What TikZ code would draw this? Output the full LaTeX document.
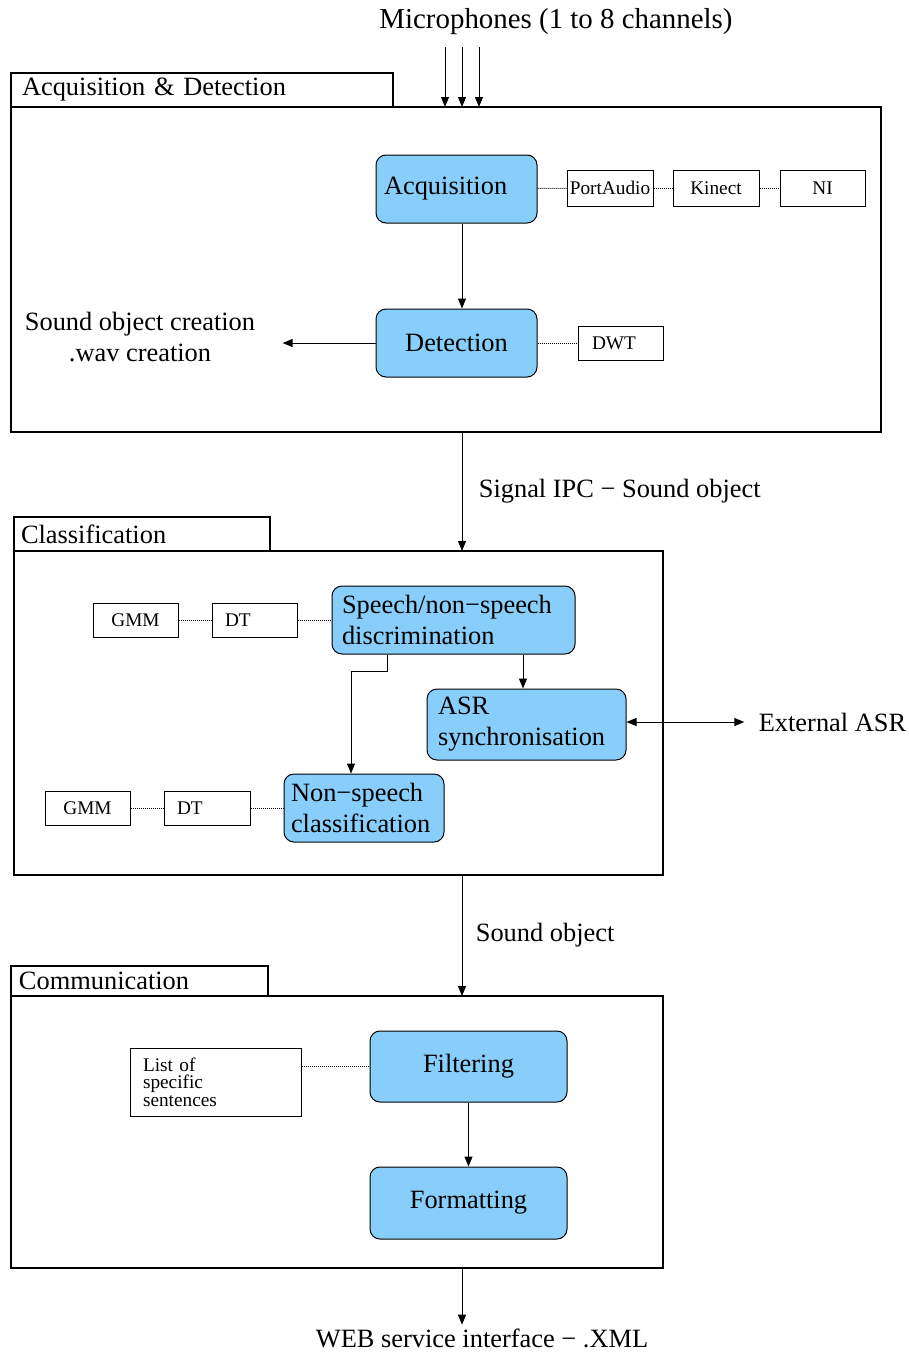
\documentclass[tikz,border=0pt]{standalone}
\usepackage{fontspec}
\setmainfont{Liberation Serif}
\usetikzlibrary{arrows.meta}
\definecolor{boxblue}{RGB}{135,206,250}

\begin{document}
\begin{tikzpicture}[x=1pt, y=-1pt, line width=1pt,
    >={Triangle[length=10pt,width=8pt]},
    big/.style={font=\fontsize{26.4}{31}\selectfont},
    small/.style={font=\fontsize{19.3}{17.5}\selectfont},
    stage/.style={draw, line width=2pt, inner sep=0pt, outer sep=0pt},
    tab/.style={draw, line width=2pt, big, align=left, anchor=south west, inner ysep=0pt, outer sep=0pt},
    blk/.style={draw, rounded corners=10pt, fill=boxblue, big, inner sep=0pt},
    tool/.style={draw, small, inner sep=0pt, minimum height=34},
    link/.style={densely dotted}]
    \useasboundingbox (0,0) rectangle (909,1352);
    \coordinate (spine) at (462,0);

    \node (mics) [font=\fontsize{28.9}{30}\selectfont] at (556,22) {Microphones (1 to 8 channels)};
    \node (acqdet) [stage, minimum width=870, minimum height=325] at (446,269.5) {};
    \node (tabacq) [tab, text width=360, inner xsep=11, minimum height=34] at (acqdet.north west) {Acquisition \& Detection};
    \coordinate (micin) at (462,47);
    \foreach \dx in {-17,0,17}
        \draw[->] ([xshift=\dx]micin) -- ([xshift=\dx]micin |- acqdet.north);

    \node (acq) [blk, minimum width=161, minimum height=68, text width=145, align=left, inner xsep=8] at (456.5,189) {Acquisition};
    \node (portaudio) [tool, minimum width=86, minimum height=36] at (610,188) {PortAudio};
    \node (kinect) [tool, minimum width=86, minimum height=36] at (716,188) {Kinect};
    \node (ni) [tool, minimum width=85, minimum height=36] at (822.5,188) {NI};
    \node (det) [blk, minimum width=161, minimum height=68] at (456.5,343) {Detection};
    \node (dwt) [tool, text width=57, align=left, inner xsep=14] at (620.5,343) {DWT};
    \node (soc) [big, align=center, inner xsep=27] at (140,337) {Sound object creation\\.wav creation};

    \draw[link] (acq) -- (portaudio);
    \draw[link] (portaudio) -- (kinect);
    \draw[link] (kinect) -- (ni);
    \draw[link] (det) -- (dwt);
    \draw[->] (acq.south -| spine) -- (det.north -| spine);
    \draw[->] (det.west) -- (det.west -| soc.east);

    \node (classif) [stage, minimum width=649, minimum height=324] at (338.5,713) {};
    \node (tabcls) [tab, text width=242, inner xsep=7, minimum height=34] at (classif.north west) {Classification};
    \draw[->] (acqdet.south -| spine) -- node[big, right=13pt] {Signal IPC − Sound object} (classif.north -| spine);

    \node (spd) [blk, minimum width=243, minimum height=68, text width=223, align=left, inner xsep=10] at (453.5,620) {Speech/non−speech\\discrimination};
    \node (gmma) [tool, minimum width=85] at (135.5,620) {GMM};
    \node (dta) [tool, text width=59, align=left, inner xsep=13] at (254.5,620) {DT};
    \node (asr) [blk, minimum width=199, minimum height=71, text width=177, align=left, inner xsep=11] at (526.5,724.5) {ASR\\synchronisation};
    \node (extasr) [big, inner xsep=14] at (832.5,722) {External ASR};
    \node (nsc) [blk, minimum width=160, minimum height=68, text width=146, align=left, inner xsep=7] at (364,808) {Non−speech\\classification};
    \node (gmmb) [tool, minimum width=85] at (87.5,808) {GMM};
    \node (dtb) [tool, text width=60, align=left, inner xsep=13] at (207,808) {DT};

    \draw[link] (gmma) -- (dta);
    \draw[link] (dta) -- (spd);
    \draw[link] (gmmb) -- (dtb);
    \draw[link] (dtb) -- (nsc);
    \draw[->] ([xshift=-3.5]asr.north |- spd.south) -- ([xshift=-3.5]asr.north);
    \draw[->] ([xshift=-66.5]spd.south) -- ++(0,17) -| ([xshift=-13]nsc.north);
    \draw[<->] (asr.east |- extasr) -- (extasr.west);

    \node (comm) [stage, minimum width=652, minimum height=272] at (337,1132) {};
    \node (tabcom) [tab, text width=241, inner xsep=8, minimum height=30] at (comm.north west) {Communication};
    \draw[->] (classif.south -| spine) -- node[big, right=10pt] {Sound object} (comm.north -| spine);

    \node (list) [tool, minimum width=171, minimum height=68, text width=145, align=left, inner xsep=13] at (215.5,1082) {List of\\specific\\sentences};
    \node (filt) [blk, minimum width=197, minimum height=71] at (468.5,1066.5) {Filtering};
    \node (fmt) [blk, minimum width=197, minimum height=72] at (468.5,1203) {Formatting};
    \node (web) [big] at (482,1338) {WEB service interface − .XML};

    \draw[link] (list.east |- filt) -- (filt.west);
    \draw[->] (filt) -- (fmt);
    \draw[->] (comm.south -| spine) -- (web.north -| spine);
\end{tikzpicture}
\end{document}
